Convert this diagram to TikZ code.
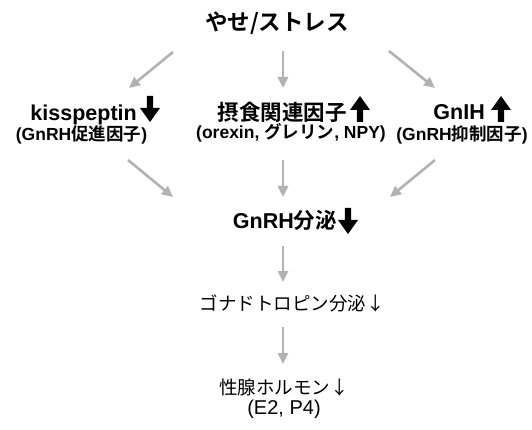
\documentclass[tikz,border=0pt]{standalone}
\usepackage{fontspec}
\setmainfont{Liberation Sans}
\newfontfamily\jp{Noto Sans CJK JP}[BoldFont={Noto Sans CJK JP Bold}]
\usetikzlibrary{arrows.meta}
\definecolor{arrgray}{RGB}{178,178,178}
\tikzset{
  flow/.style={draw=arrgray, line width=2.6pt, -{Triangle[length=11pt,width=10pt]}},
  boldA/.style={inner sep=0pt, font=\bfseries\fontsize{21.5}{24}\selectfont},
  boldB/.style={inner sep=0pt, font=\bfseries\fontsize{17.5}{20}\selectfont},
  regA/.style={inner sep=0pt, font=\fontsize{18.5}{22}\selectfont},
  downarr/.pic={\fill[black] (-3.2,0) -- (3.2,0) -- (3.2,12) -- (10,12) -- (0,26) -- (-10,12) -- (-3.2,12) -- cycle;},
  uparr/.pic={\fill[black] (-3.2,26) -- (3.2,26) -- (3.2,14) -- (10,14) -- (0,0) -- (-10,14) -- (-3.2,14) -- cycle;}
}
\begin{document}
\begin{tikzpicture}[x=1pt,y=-1pt]
\useasboundingbox[fill=white] (0,0) rectangle (532,430);
% texts
\node[boldA, font=\bfseries\fontsize{22.5}{25}\selectfont, anchor=base] (t) at (277,31) {\jp やせ/ストレス};
\node[boldA, anchor=base east] (k) at (137,121) {kisspeptin};
\node[boldB, anchor=base] (k2) at (81.5,141) {(GnRH{\jp 促進因子})};
\node[boldA, anchor=base east] (f) at (347,121) {\jp 摂食関連因子};
\node[boldB, anchor=base] (f2) at (291,139) {(orexin, {\jp グレリン}, NPY)};
\node[boldA, anchor=base east] (g) at (485,120) {GnIH};
\node[boldB, anchor=base] (g2) at (462,141) {(GnRH{\jp 抑制因子})};
\node[boldA, anchor=base east] (r) at (337,229) {GnRH{\jp 分泌}};
\node[regA, anchor=base] (go) at (292,310) {\jp ゴナドトロピン分泌↓};
\node[regA, anchor=base] (s) at (284,394) {\jp 性腺ホルモン↓};
\node[regA, font=\fontsize{20}{22}\selectfont, anchor=base] (s2) at (284,414) {(E2, P4)};
% block arrows
\pic at (150,96) {downarr};
\pic at (360,96) {uparr};
\pic at (501,96) {uparr};
\pic at (348,208) {downarr};
% flow arrows
\coordinate (a1s) at (173,52); \coordinate (a1e) at (129,88);
\coordinate (a2s) at (283,51); \coordinate (a2e) at (283,88);
\coordinate (a3s) at (389,51); \coordinate (a3e) at (435,88);
\coordinate (b1s) at (128,160); \coordinate (b1e) at (173,197);
\coordinate (b2s) at (283,160); \coordinate (b2e) at (283,197);
\coordinate (b3s) at (435,160); \coordinate (b3e) at (390,197);
\coordinate (c1s) at (283,246); \coordinate (c1e) at (283,282);
\coordinate (c2s) at (283,327); \coordinate (c2e) at (283,364);
\draw[flow] (a1s) -- (a1e);
\draw[flow] (a2s) -- (a2e);
\draw[flow] (a3s) -- (a3e);
\draw[flow] (b1s) -- (b1e);
\draw[flow] (b2s) -- (b2e);
\draw[flow] (b3s) -- (b3e);
\draw[flow] (c1s) -- (c1e);
\draw[flow] (c2s) -- (c2e);
\end{tikzpicture}
\end{document}
